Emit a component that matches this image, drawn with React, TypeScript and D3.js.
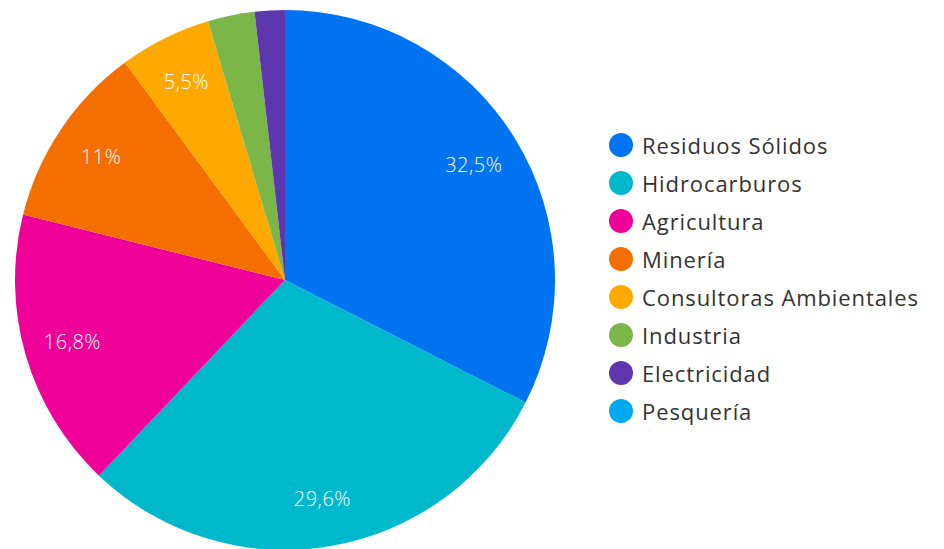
import React from "react";
import * as d3 from "d3";

const categories = [
  "Residuos Sólidos",
  "Hidrocarburos",
  "Agricultura",
  "Minería",
  "Consultoras Ambientales",
  "Industria",
  "Electricidad",
  "Pesquería",
];
const values = [32.5, 29.6, 16.8, 11, 5.5, 2.8, 1.8, 0];
const labels = ["32,5%", "29,6%", "16,8%", "11%", "5,5%", "", "", ""];
const colors = ["#0073F0", "#00B8CC", "#EE0099", "#F56E00", "#FFA800", "#7AB648", "#5D36B0", "#00A8F0"];

export default function App() {
  const W = 944, H = 549;
  const cx = 285, cy = 280, R = 270;
  const pie = d3.pie<number>().sort(null).value((d) => d);
  const arcs = pie(values);
  const arc = d3.arc<d3.PieArcDatum<number>>().innerRadius(0).outerRadius(R);
  const labelArc = d3.arc<d3.PieArcDatum<number>>().innerRadius(R * 0.82).outerRadius(R * 0.82);
  const legendY = d3.scaleBand<number>().domain(d3.range(categories.length)).range([126, 430]);
  const font = "'Open Sans', Lato, sans-serif";
  return (
    <svg width={W} height={H} style={{ position: "absolute", left: 0, top: 0 }}>
      <rect width={W} height={H} fill="#fff" />
      <g transform={`translate(${cx},${cy})`}>
        {arcs.map((a, i) => (
          <path key={i} d={arc(a) || ""} fill={colors[i]} />
        ))}
        {arcs.map((a, i) => {
          if (!labels[i]) return null;
          const [x, y] = labelArc.centroid(a);
          return (
            <text key={i} x={x} y={y} fill="#fff" fontFamily={font} fontWeight={300} fontSize={20}
              style={{ letterSpacing: "0.5px" }} textAnchor="middle" dominantBaseline="central">{labels[i]}</text>
          );
        })}
      </g>
      <g>
        {categories.map((c, i) => {
          const y = (legendY(i) as number) + legendY.bandwidth() / 2;
          return (
            <g key={c}>
              <circle cx={621} cy={y} r={12} fill={colors[i]} />
              <text x={642} y={y} fill="#333" fontFamily={font} fontSize={22} fontWeight={400}
                style={{ letterSpacing: "0.9px" }} dominantBaseline="central">{c}</text>
            </g>
          );
        })}
      </g>
    </svg>
  );
}
